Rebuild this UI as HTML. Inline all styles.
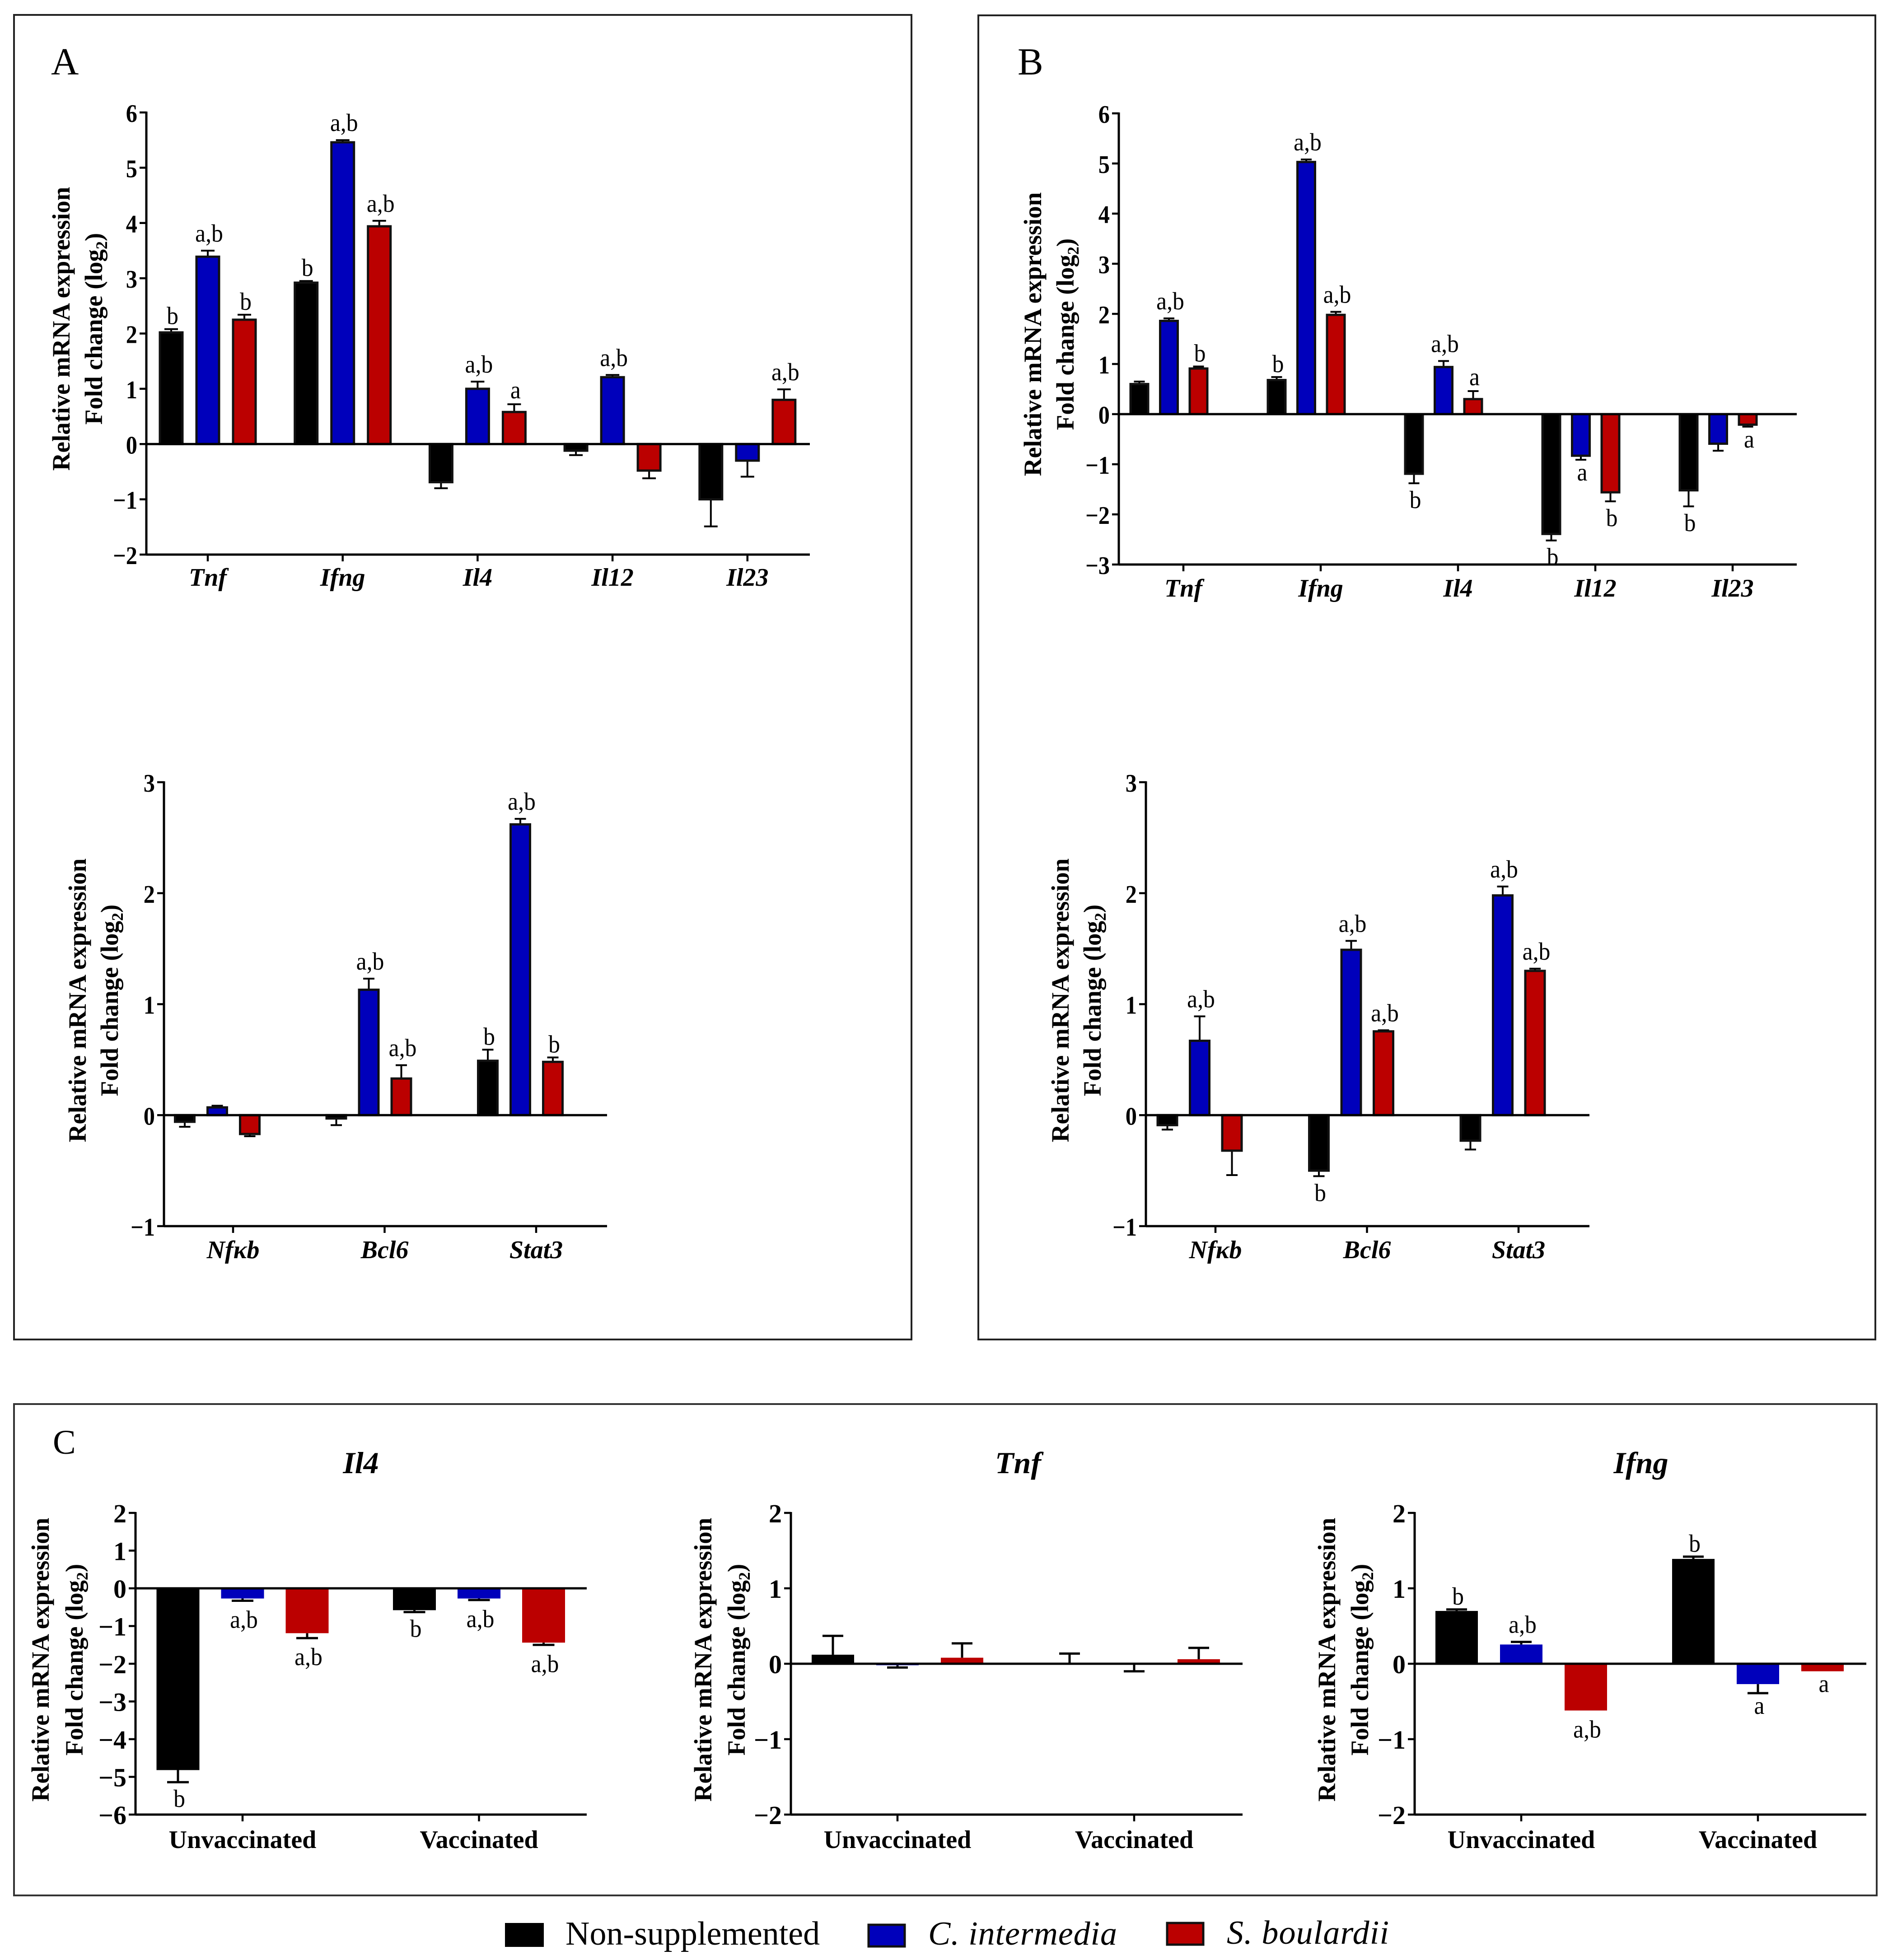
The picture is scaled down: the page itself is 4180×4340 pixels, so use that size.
<!DOCTYPE html>
<html lang="en">
<head>
<meta charset="utf-8">
<title>Relative mRNA expression panels</title>
<style>
html,body{margin:0;padding:0;background:#fff;}
svg{display:block;font-family:"Liberation Serif",serif;}
</style>
</head>
<body>
<svg id="figure" xmlns="http://www.w3.org/2000/svg" width="4180" height="4340" viewBox="0 0 4180 4340">
  <rect width="4180" height="4340" fill="#fff"/>
  <rect x="31" y="33" width="1987" height="2933" fill="none" stroke="#222" stroke-width="4"/>
  <rect x="2166" y="34" width="1986" height="2932" fill="none" stroke="#222" stroke-width="4"/>
  <rect x="31" y="3109" width="4124" height="1088" fill="none" stroke="#333" stroke-width="4"/>
  <text x="113" y="165" font-size="85">A</text>
  <text x="2253" y="165" font-size="85">B</text>
  <text x="117" y="3219" font-size="76">C</text>
  <text x="799" y="3262" font-size="68" font-weight="bold" font-style="italic" text-anchor="middle">Il4</text>
  <text x="2254" y="3262" font-size="68" font-weight="bold" font-style="italic" text-anchor="middle">Tnf</text>
  <text x="3633" y="3262" font-size="68" font-weight="bold" font-style="italic" text-anchor="middle">Ifng</text>
  <g>
    <rect x="1118" y="4258" width="86" height="53" fill="#000"/>
    <text x="1252" y="4306" font-size="74">Non-supplemented</text>
    <rect x="1923" y="4262" width="80" height="48" fill="#0000bb" stroke="#111" stroke-width="5"/>
    <text x="2055" y="4306" font-size="74" font-style="italic" textLength="418" lengthAdjust="spacing">C. intermedia</text>
    <rect x="2584" y="4258" width="80" height="48" fill="#bb0000" stroke="#111" stroke-width="5"/>
    <text x="2716" y="4304" font-size="74" font-style="italic" textLength="359" lengthAdjust="spacing">S. boulardii</text>
  </g>
</svg>
<script>
// ---- shared series ----
const seriesKeys = ['non-supplemented', 'c-intermedia', 's-boulardii'];

// ---- Panel A, cytokines ----
const aCytoCategories = ['Tnf', 'Ifng', 'Il4', 'Il12', 'Il23'];
const aCytoTicks = [-2, -1, 0, 1, 2, 3, 4, 5, 6];
const aCytoNon = [2.02, 2.92, -0.69, -0.12, -1.0];
const aCytoNonErr = [0.06, 0.03, 0.11, 0.08, 0.49];
const aCytoBlue = [3.39, 5.46, 1.0, 1.21, -0.3];
const aCytoBlueErr = [0.11, 0.04, 0.13, 0.04, 0.29];
const aCytoRed = [2.25, 3.94, 0.58, -0.48, 0.8];
const aCytoRedErr = [0.09, 0.10, 0.14, 0.14, 0.19];
const aCytoNonLabels = ['b', 'b', '', '', ''];
const aCytoBlueLabels = ['a,b', 'a,b', 'a,b', 'a,b', ''];
const aCytoRedLabels = ['b', 'a,b', 'a', '', 'a,b'];

// ---- Panel A, transcription factors ----
const aTfCategories = ['Nfκb', 'Bcl6', 'Stat3'];
const aTfTicks = [-1, 0, 1, 2, 3];
const aTfNon = [-0.06, -0.03, 0.49];
const aTfNonErr = [0.045, 0.06, 0.10];
const aTfBlue = [0.07, 1.13, 2.62];
const aTfBlueErr = [0.015, 0.10, 0.05];
const aTfRed = [-0.17, 0.33, 0.48];
const aTfRedErr = [0.02, 0.12, 0.04];
const aTfNonLabels = ['', '', 'b'];
const aTfBlueLabels = ['', 'a,b', 'a,b'];
const aTfRedLabels = ['', 'a,b', 'b'];

// ---- Panel B, cytokines ----
const bCytoCategories = ['Tnf', 'Ifng', 'Il4', 'Il12', 'Il23'];
const bCytoTicks = [-3, -2, -1, 0, 1, 2, 3, 4, 5, 6];
const bCytoNon = [0.6, 0.68, -1.19, -2.39, -1.52];
const bCytoNonErr = [0.05, 0.06, 0.19, 0.13, 0.32];
const bCytoBlue = [1.86, 5.03, 0.94, -0.83, -0.59];
const bCytoBlueErr = [0.05, 0.05, 0.12, 0.08, 0.14];
const bCytoRed = [0.91, 1.98, 0.30, -1.56, -0.21];
const bCytoRedErr = [0.04, 0.06, 0.16, 0.18, 0.04];
const bCytoNonLabels = ['', 'b', 'b', 'b', 'b'];
const bCytoBlueLabels = ['a,b', 'a,b', 'a,b', 'a', ''];
const bCytoRedLabels = ['b', 'a,b', 'a', 'b', 'a'];

// ---- Panel B, transcription factors ----
const bTfCategories = ['Nfκb', 'Bcl6', 'Stat3'];
const bTfTicks = [-1, 0, 1, 2, 3];
const bTfNon = [-0.09, -0.5, -0.23];
const bTfNonErr = [0.04, 0.05, 0.08];
const bTfBlue = [0.67, 1.49, 1.98];
const bTfBlueErr = [0.22, 0.08, 0.08];
const bTfRed = [-0.32, 0.755, 1.30];
const bTfRedErr = [0.22, 0.01, 0.02];
const bTfNonLabels = ['', 'b', ''];
const bTfBlueLabels = ['a,b', 'a,b', 'a,b'];
const bTfRedLabels = ['', 'a,b', 'a,b'];

// ---- Panel C ----
const cCategories = ['Unvaccinated', 'Vaccinated'];
const cIl4Ticks = [-6, -5, -4, -3, -2, -1, 0, 1, 2];
const cIl4Non = [-4.82, -0.58];
const cIl4NonErr = [0.32, 0.05];
const cIl4Blue = [-0.27, -0.27];
const cIl4BlueErr = [0.06, 0.04];
const cIl4Red = [-1.19, -1.44];
const cIl4RedErr = [0.13, 0.06];
const cIl4NonLabels = ['b', 'b'];
const cIl4BlueLabels = ['a,b', 'a,b'];
const cIl4RedLabels = ['a,b', 'a,b'];

const cTnfTicks = [-2, -1, 0, 1, 2];
const cTnfNon = [0.12, 0];
const cTnfNonErr = [0.25, 0.135];
const cTnfBlue = [-0.02, -0.01];
const cTnfBlueErr = [0.03, 0.09];
const cTnfRed = [0.08, 0.06];
const cTnfRedErr = [0.19, 0.15];
const cTnfNonLabels = ['', ''];
const cTnfBlueLabels = ['', ''];
const cTnfRedLabels = ['', ''];

const cIfngTicks = [-2, -1, 0, 1, 2];
const cIfngNon = [0.70, 1.39];
const cIfngNonErr = [0.02, 0.03];
const cIfngBlue = [0.255, -0.27];
const cIfngBlueErr = [0.035, 0.12];
const cIfngRed = [-0.62, -0.1];
const cIfngRedErr = [0, 0];
const cIfngNonLabels = ['b', 'b'];
const cIfngBlueLabels = ['a,b', 'a'];
const cIfngRedLabels = ['a,b', 'a'];

// ---- drawing ----
const SVGNS = 'http://www.w3.org/2000/svg';
const figure = document.getElementById('figure');
const colors = ['#000000', '#0000bb', '#bb0000'];
const gapAbove = { 'a,b': 20, 'b': 11, 'a': 13 };
const gapBelow = { 'a,b': 60, 'b': 55, 'a': 46 };

function svgEl(parent, tag, attrs, text) {
  const el = document.createElementNS(SVGNS, tag);
  for (const k in attrs) el.setAttribute(k, attrs[k]);
  if (text !== undefined) el.textContent = text;
  parent.appendChild(el);
  return el;
}

function drawChart(name, layout, categories, ticks, values, errors, labels) {
  const g = svgEl(figure, 'g', {});
  
  
  const yMin = Math.min.apply(null, ticks);
  const yMax = Math.max.apply(null, ticks);
  const yScale = v => layout.yTop + (yMax - v) * (layout.yBottom - layout.yTop) / (yMax - yMin);
  const xScale = i => layout.tickStart + i * layout.tickStep;
  const ink = '#000';

  // bars, error bars, letters
  categories.forEach((cat, c) => {
    values.forEach((series, s) => {
      const v = series[c];
      const err = errors[s][c];
      const cx = xScale(c) + layout.groupOffset + (s - 1) * layout.barStep;
      const end = v + (v >= 0 ? err : -err);
      if (err > 0) {
        const stem = svgEl(g, 'line', { x1: cx, x2: cx, y1: yScale(v), y2: yScale(end), stroke: ink, 'stroke-width': layout.errWidth });
        
        
        const cap = svgEl(g, 'line', { x1: cx - layout.capWidth / 2, x2: cx + layout.capWidth / 2, y1: yScale(end), y2: yScale(end), stroke: ink, 'stroke-width': layout.errWidth });
        
        
      }
      const top = Math.min(yScale(v), yScale(0));
      const h = Math.abs(yScale(v) - yScale(0));
      const bar = svgEl(g, 'rect', { x: cx - layout.barWidth / 2, y: top, width: layout.barWidth, height: h, fill: colors[s] });
      if (layout.barStroke) {
        bar.setAttribute('stroke', '#111');
        bar.setAttribute('stroke-width', layout.barStroke);
      }
      
      
      const label = labels[s][c];
      if (label) {
        const ly = (end >= 0 && v >= 0) ? yScale(end) - gapAbove[label] : yScale(end) + gapBelow[label];
        const t = svgEl(g, 'text', { transform: 'translate(' + (cx + 3) + ',' + ly + ') scale(0.94,1)', 'font-size': 55, 'text-anchor': 'middle' }, label);
        
        
      }
    });
  });

  // axes
  const yAxis = svgEl(g, 'line', { x1: layout.axisX, x2: layout.axisX, y1: layout.yTop - 2, y2: layout.yBottom + 2, stroke: ink, 'stroke-width': 5 });
  
  
  const xAxis = svgEl(g, 'line', { x1: layout.axisX, x2: layout.axisEnd, y1: layout.yBottom, y2: layout.yBottom, stroke: ink, 'stroke-width': 5 });
  
  
  const zero = svgEl(g, 'line', { x1: layout.axisX, x2: layout.axisEnd, y1: yScale(0), y2: yScale(0), stroke: ink, 'stroke-width': 5 });
  
  

  ticks.forEach(t => {
    const y = yScale(t);
    const tick = svgEl(g, 'line', { x1: layout.axisX - 15, x2: layout.axisX, y1: y, y2: y, stroke: ink, 'stroke-width': 4.5 });
    
    
    const lab = svgEl(g, 'text', { transform: 'translate(' + (layout.axisX - 20) + ',' + (y + 21) + ') scale(' + layout.tickScale + ',1)', 'font-size': layout.tickSize, 'font-weight': 'bold', 'text-anchor': 'end' }, String(t).replace('-', '\u2212'));
    
    
  });

  categories.forEach((cat, c) => {
    const x = xScale(c);
    const tick = svgEl(g, 'line', { x1: x, x2: x, y1: layout.yBottom, y2: layout.yBottom + 15, stroke: ink, 'stroke-width': 4.5 });
    
    
    const lab = svgEl(g, 'text', { x: x, y: layout.catBaseline, 'font-size': layout.catSize, 'font-weight': 'bold', 'text-anchor': 'middle' }, cat);
    if (layout.catItalic) lab.setAttribute('font-style', 'italic');
    
    
  });

  // y axis title
  const t1 = svgEl(g, 'text', { transform: 'translate(' + layout.title1X + ',' + layout.titleY + ') rotate(-90)', 'font-size': 55, 'font-weight': 'bold', 'text-anchor': 'middle' }, 'Relative mRNA expression');
  
  
  const t2 = svgEl(g, 'text', { transform: 'translate(' + layout.title2X + ',' + layout.titleY + ') rotate(-90)', 'font-size': 55, 'font-weight': 'bold', 'text-anchor': 'middle' }, 'Fold change (log');
  
  
  svgEl(t2, 'tspan', { dy: 11, 'font-size': 36 }, '2');
  svgEl(t2, 'tspan', { dy: -11 }, ')');
}

drawChart('panel-a-cytokines',
  { axisX: 324, axisEnd: 1793, yTop: 249, yBottom: 1228, tickStart: 460, tickStep: 298.7, groupOffset: 0, barStep: 81, barWidth: 50, barStroke: 5, capWidth: 30, errWidth: 4, tickSize: 56, tickScale: 0.9, catBaseline: 1297, catSize: 56, catItalic: true, title1X: 154, title2X: 226, titleY: 728 },
  aCytoCategories, aCytoTicks, [aCytoNon, aCytoBlue, aCytoRed], [aCytoNonErr, aCytoBlueErr, aCytoRedErr], [aCytoNonLabels, aCytoBlueLabels, aCytoRedLabels]);

drawChart('panel-a-transcription',
  { axisX: 363, axisEnd: 1344, yTop: 1732, yBottom: 2715, tickStart: 516, tickStep: 335.5, groupOffset: -35, barStep: 72, barWidth: 43, barStroke: 5, capWidth: 25, errWidth: 4, tickSize: 56, tickScale: 0.9, catBaseline: 2786, catSize: 56, catItalic: true, title1X: 190, title2X: 261, titleY: 2215 },
  aTfCategories, aTfTicks, [aTfNon, aTfBlue, aTfRed], [aTfNonErr, aTfBlueErr, aTfRedErr], [aTfNonLabels, aTfBlueLabels, aTfRedLabels]);

drawChart('panel-b-cytokines',
  { axisX: 2477, axisEnd: 3978, yTop: 251, yBottom: 1250, tickStart: 2620, tickStep: 304, groupOffset: -32, barStep: 65.5, barWidth: 39, barStroke: 5, capWidth: 24, errWidth: 4, tickSize: 56, tickScale: 0.9, catBaseline: 1321, catSize: 56, catItalic: true, title1X: 2305, title2X: 2377, titleY: 740 },
  bCytoCategories, bCytoTicks, [bCytoNon, bCytoBlue, bCytoRed], [bCytoNonErr, bCytoBlueErr, bCytoRedErr], [bCytoNonLabels, bCytoBlueLabels, bCytoRedLabels]);

drawChart('panel-b-transcription',
  { axisX: 2537, axisEnd: 3519, yTop: 1732, yBottom: 2715, tickStart: 2691, tickStep: 335.5, groupOffset: -35, barStep: 71.5, barWidth: 43, barStroke: 5, capWidth: 25, errWidth: 4, tickSize: 56, tickScale: 0.9, catBaseline: 2786, catSize: 56, catItalic: true, title1X: 2366, title2X: 2437, titleY: 2215 },
  bTfCategories, bTfTicks, [bTfNon, bTfBlue, bTfRed], [bTfNonErr, bTfBlueErr, bTfRedErr], [bTfNonLabels, bTfBlueLabels, bTfRedLabels]);

drawChart('panel-c-il4',
  { axisX: 300, axisEnd: 1299, yTop: 3350, yBottom: 4018, tickStart: 537, tickStep: 523.5, groupOffset: 0, barStep: 143, barWidth: 95, barStroke: 0, capWidth: 48, errWidth: 5, tickSize: 58, tickScale: 1, catBaseline: 4092, catSize: 56, catItalic: false, title1X: 108, title2X: 183, titleY: 3675 },
  cCategories, cIl4Ticks, [cIl4Non, cIl4Blue, cIl4Red], [cIl4NonErr, cIl4BlueErr, cIl4RedErr], [cIl4NonLabels, cIl4BlueLabels, cIl4RedLabels]);

drawChart('panel-c-tnf',
  { axisX: 1751, axisEnd: 2751, yTop: 3350, yBottom: 4018, tickStart: 1987, tickStep: 524, groupOffset: 0, barStep: 143, barWidth: 94, barStroke: 0, capWidth: 46, errWidth: 5, tickSize: 58, tickScale: 1, catBaseline: 4092, catSize: 56, catItalic: false, title1X: 1575, title2X: 1649, titleY: 3675 },
  cCategories, cTnfTicks, [cTnfNon, cTnfBlue, cTnfRed], [cTnfNonErr, cTnfBlueErr, cTnfRedErr], [cTnfNonLabels, cTnfBlueLabels, cTnfRedLabels]);

drawChart('panel-c-ifng',
  { axisX: 3132, axisEnd: 4132, yTop: 3350, yBottom: 4018, tickStart: 3368, tickStep: 524, groupOffset: 0, barStep: 143, barWidth: 94, barStroke: 0, capWidth: 46, errWidth: 5, tickSize: 58, tickScale: 1, catBaseline: 4092, catSize: 56, catItalic: false, title1X: 2956, title2X: 3029, titleY: 3675 },
  cCategories, cIfngTicks, [cIfngNon, cIfngBlue, cIfngRed], [cIfngNonErr, cIfngBlueErr, cIfngRedErr], [cIfngNonLabels, cIfngBlueLabels, cIfngRedLabels]);
</script>
</body>
</html>
